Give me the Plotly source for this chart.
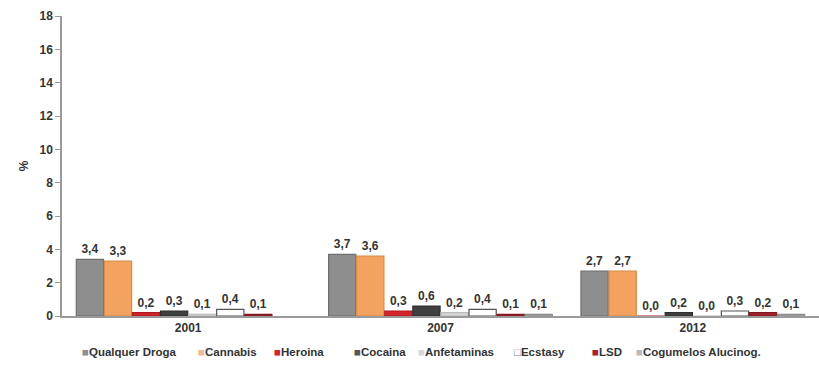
import plotly.graph_objects as go

years = ["2001", "2007", "2012"]
series_names = ["Qualquer Droga", "Cannabis", "Heroina", "Cocaina", "Anfetaminas", "Ecstasy", "LSD", "Cogumelos Alucinog."]
values = {
    "Qualquer Droga": [3.4, 3.7, 2.7],
    "Cannabis": [3.3, 3.6, 2.7],
    "Heroina": [0.2, 0.3, 0.0],
    "Cocaina": [0.3, 0.6, 0.2],
    "Anfetaminas": [0.1, 0.2, 0.0],
    "Ecstasy": [0.4, 0.4, 0.3],
    "LSD": [0.1, 0.1, 0.2],
    "Cogumelos Alucinog.": [None, 0.1, 0.1],
}
fill_colors = ["#8e8e8e", "#f3a35f", "#d3242a", "#3f3f3f", "#d6d6d6", "#ffffff", "#a3202c", "#a9a9a9"]
line_colors = ["#6e6e6e", "#d98a48", "#b01a20", "#2e2e2e", "#bdbdbd", "#555555", "#801820", "#8c8c8c"]
legend_symbols = ["■", "■", "■", "■", "■", "□", "■", "■"]
legend_symbol_colors = ["#8e8e8e", "#f0b890", "#d3242a", "#555555", "#d6d6d6", "#888888", "#a3202c", "#bbbbbb"]
legend_x_px = [80, 196, 272, 352, 416, 512, 590, 634]

L_MARGIN, R_MARGIN, T_MARGIN, B_MARGIN, W, H = 62, 0, 16, 50, 819, 366
plot_w = W - L_MARGIN - R_MARGIN
plot_h = H - T_MARGIN - B_MARGIN
legend_y_px = 352

fig = go.Figure()
for name, fc, lc in zip(series_names, fill_colors, line_colors):
    fig.add_trace(go.Bar(
        name=name, x=years, y=values[name],
        marker=dict(color=fc, line=dict(color=lc, width=1.2)),
        texttemplate="%{y:.1f}", textposition="outside",
        textfont=dict(family="Liberation Sans, Arial", size=12, color="#333333", weight="bold"),
        cliponaxis=False, showlegend=False,
    ))

for name, sym, sc, px in zip(series_names, legend_symbols, legend_symbol_colors, legend_x_px):
    fig.add_annotation(
        x=(px - L_MARGIN) / plot_w, xref="paper", xanchor="left",
        y=(H - B_MARGIN - legend_y_px) / plot_h, yref="paper", yanchor="middle",
        text=f"<span style='color:{sc}'>{sym}</span>{name}",
        showarrow=False,
        font=dict(family="Liberation Sans, Arial", size=11.5, color="#333333", weight="bold"),
    )

fig.update_layout(
    width=W, height=H,
    margin=dict(l=L_MARGIN, r=R_MARGIN, t=T_MARGIN, b=B_MARGIN),
    paper_bgcolor="white", plot_bgcolor="white",
    separators=",.",
    barmode="group", bargap=0.11, bargroupgap=0.03,
    font=dict(family="Liberation Sans, Arial", color="#333333", weight="bold"),
    showlegend=False,
    xaxis=dict(showline=True, linecolor="#9a9a9a", linewidth=1.5, ticks="",
               tickfont=dict(size=12, color="#333333", weight="bold"), showgrid=False),
    yaxis=dict(range=[0, 18], dtick=2, showline=True, linecolor="#9a9a9a", linewidth=1.5,
               ticks="outside", ticklen=5, tickcolor="#9a9a9a", showgrid=False, zeroline=False,
               tickfont=dict(size=12, color="#333333", weight="bold"),
               title=dict(text="%", font=dict(size=12, color="#333333", weight="bold"), standoff=8)),
)

fig.write_html("out.html")
